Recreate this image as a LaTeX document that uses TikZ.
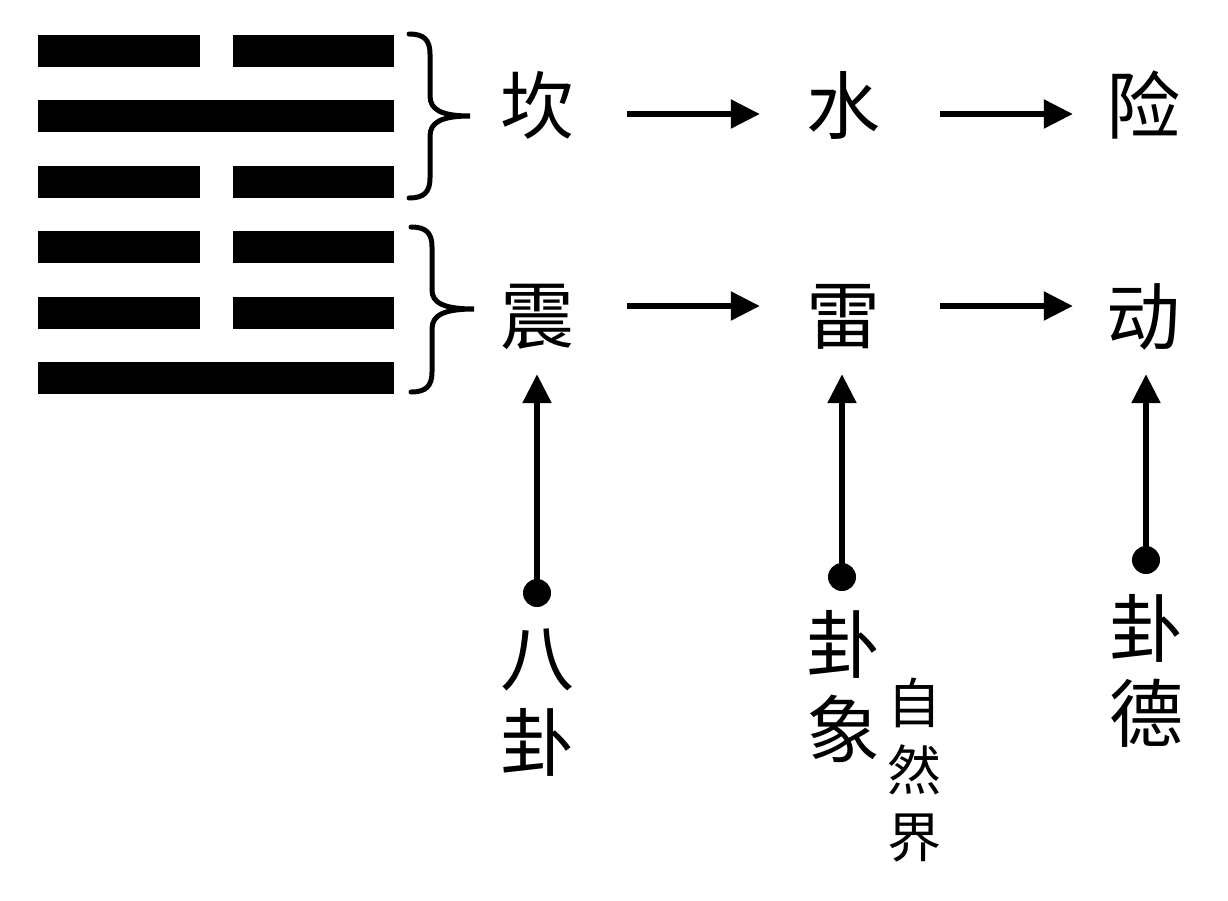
\documentclass[tikz,border=0pt]{standalone}
\usepackage{fontspec}
\newfontfamily\cjk{Noto Sans CJK SC}
\usetikzlibrary{arrows.meta}

\begin{document}
\begin{tikzpicture}[x=1pt, y=-1pt, line join=miter,
  hanzi/.style={inner sep=0pt, minimum size=74pt, align=center, font=\cjk\fontsize{74}{85}\selectfont},
  small hanzi/.style={inner sep=0pt, align=center, font=\cjk\fontsize{54}{67}\selectfont},
  arr/.style={line width=\guaArrowWidth, -{Triangle[length=29pt,width=28pt]}},
  dotnode/.style={circle, fill=black, inner sep=0pt, minimum size=28pt}]
% Zhun hexagram: kan above zhen
\providecommand{\guaBarColor}{black}
\providecommand{\guaArrowWidth}{5.5pt}
\providecommand{\guaBraceWidth}{5pt}
\useasboundingbox (0,0) rectangle (1228,900);
% Hexagram bars, top to bottom
\begin{scope}[fill=\guaBarColor]
  \fill (38,35) rectangle (200,67);
  \fill (233,35) rectangle (394,67);
  \fill (38,100) rectangle (394,132);
  \fill (38,166) rectangle (200,198);
  \fill (233,166) rectangle (394,198);
  \fill (38,231) rectangle (200,263);
  \fill (233,231) rectangle (394,263);
  \fill (38,297) rectangle (200,329);
  \fill (233,297) rectangle (394,329);
  \fill (38,362) rectangle (394,394);
\end{scope}
% Braces
\begin{scope}[line width=\guaBraceWidth, line cap=round]
  \draw (409,34) .. controls (424,34) and (430,40) .. (430,54) -- (430,96)
    .. controls (430,110) and (442,116) .. (470,116)
    .. controls (442,116) and (430,122) .. (430,136) -- (430,178)
    .. controls (430,192) and (424,198) .. (409,198);
  \draw (411,227) .. controls (426,227) and (432,233) .. (432,247) -- (432,290)
    .. controls (432,303) and (444,309) .. (474,309)
    .. controls (444,309) and (432,315) .. (432,329) -- (432,372)
    .. controls (432,386) and (426,392) .. (411,392);
\end{scope}
% Trigram rows
\node[hanzi] (kan) at (537,105) {坎};
\node[hanzi] (shui) at (843,105) {水};
\node[hanzi] (xian) at (1143,105) {险};
\node[hanzi] (zhen) at (537,317) {震};
\node[hanzi] (lei) at (843,317) {雷};
\node[hanzi] (dong) at (1143,317) {动};
% Row arrows
\draw[arr, shorten <=53pt, shorten >=46pt] ([yshift=-9pt]kan.east) -- ([yshift=-9pt]shui.west);
\draw[arr, shorten <=60pt, shorten >=33pt] ([yshift=-9pt]shui.east) -- ([yshift=-9pt]xian.west);
\draw[arr, shorten <=53pt, shorten >=46pt] ([yshift=11pt]zhen.east) -- ([yshift=11pt]lei.west);
\draw[arr, shorten <=60pt, shorten >=33pt] ([yshift=11pt]lei.east) -- ([yshift=11pt]dong.west);
% Column labels
\node[dotnode] (d1) at (537,593) {};
\node[dotnode] (d2) at (842,577) {};
\node[dotnode] (d3) at (1146,560) {};
\node[hanzi] (bagua) at (537,703) {八\\卦};
\node[hanzi] (guaxiang) at (843,687) {卦\\象};
\node[hanzi] (guade) at (1146,671) {卦\\德};
\node[small hanzi] (ziran) at (914,770) {自\\然\\界};
% Column arrows
\draw[arr, shorten >=20pt] (d1.center) -- (d1 |- zhen.south);
\draw[arr, shorten >=20pt] (d2.center) -- (d2 |- lei.south);
\draw[arr, shorten >=20pt] (d3.center) -- (d3 |- dong.south);
\end{tikzpicture}
\end{document}
